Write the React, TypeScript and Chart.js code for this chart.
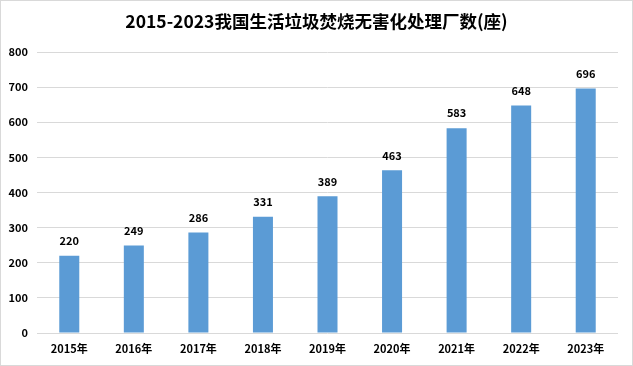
import React, { useEffect, useRef } from "react";
import { Chart, registerables } from "chart.js";

Chart.register(...registerables);

const title = "2015-2023我国生活垃圾焚烧无害化处理厂数(座)";
const categories = ["2015年", "2016年", "2017年", "2018年", "2019年", "2020年", "2021年", "2022年", "2023年"];
const values = [220, 249, 286, 331, 389, 463, 583, 648, 696];
const yMin = 0;
const yMax = 800;
const yStep = 100;

const FONT = "'Noto Sans CJK SC', 'Noto Sans', sans-serif";

export default function App() {
  const ref = useRef<HTMLCanvasElement | null>(null);

  useEffect(() => {
    document.body.style.margin = "0";
    const canvas = ref.current;
    if (!canvas) return;

    const extras = {
      id: "extras",
      afterDatasetsDraw(chart: any) {
        const ctx = chart.ctx;
        const meta = chart.getDatasetMeta(0);
        ctx.save();
        ctx.fillStyle = "#000";
        ctx.font = `bold 11px ${FONT}`;
        ctx.textAlign = "center";
        ctx.textBaseline = "middle";
        meta.data.forEach((bar: any, i: number) => {
          ctx.fillText(String(values[i]), bar.x, bar.y - 15);
        });
        ctx.restore();
      },
      afterDraw(chart: any) {
        const ctx = chart.ctx;
        ctx.save();
        ctx.fillStyle = "#000";
        ctx.font = `bold 17.5px ${FONT}`;
        ctx.textAlign = "center";
        ctx.textBaseline = "middle";
        ctx.fillText(title, chart.width / 2, 21);
        ctx.strokeStyle = "#d9d9d9";
        ctx.lineWidth = 1;
        ctx.strokeRect(0.5, 0.5, chart.width - 1, chart.height - 1);
        ctx.restore();
      },
    };

    const chart = new Chart(canvas, {
      type: "bar",
      data: {
        labels: categories,
        datasets: [
          {
            data: values,
            backgroundColor: "#5B9BD5",
            borderWidth: 0,
            barPercentage: 0.31,
            categoryPercentage: 1,
          },
        ],
      },
      options: {
        animation: false,
        responsive: false,
        maintainAspectRatio: false,
        layout: { padding: { top: 52, left: 0, right: 15, bottom: 0 } },
        plugins: {
          legend: { display: false },
          title: { display: false },
          tooltip: { enabled: false },
        },
        scales: {
          x: {
            grid: { display: false, drawTicks: false },
            border: { display: false },
            ticks: {
              color: "#000",
              font: { family: FONT, size: 11, weight: "bold" },
              padding: 9,
              maxRotation: 0,
            },
            afterFit: (scale: any) => {
              scale.height = 33;
            },
          },
          y: {
            min: yMin,
            max: yMax,
            grid: { color: "#d9d9d9", drawTicks: false },
            border: { display: false },
            ticks: {
              stepSize: yStep,
              color: "#000",
              font: { family: FONT, size: 11, weight: "bold" },
              padding: 9,
            },
            afterFit: (scale: any) => {
              scale.width = 37;
            },
          },
        },
      },
      plugins: [extras],
    });

    return () => chart.destroy();
  }, []);

  return (
    <div style={{ width: 633, height: 366, background: "#fff" }}>
      <canvas ref={ref} width={633} height={366} style={{ display: "block" }} />
    </div>
  );
}
